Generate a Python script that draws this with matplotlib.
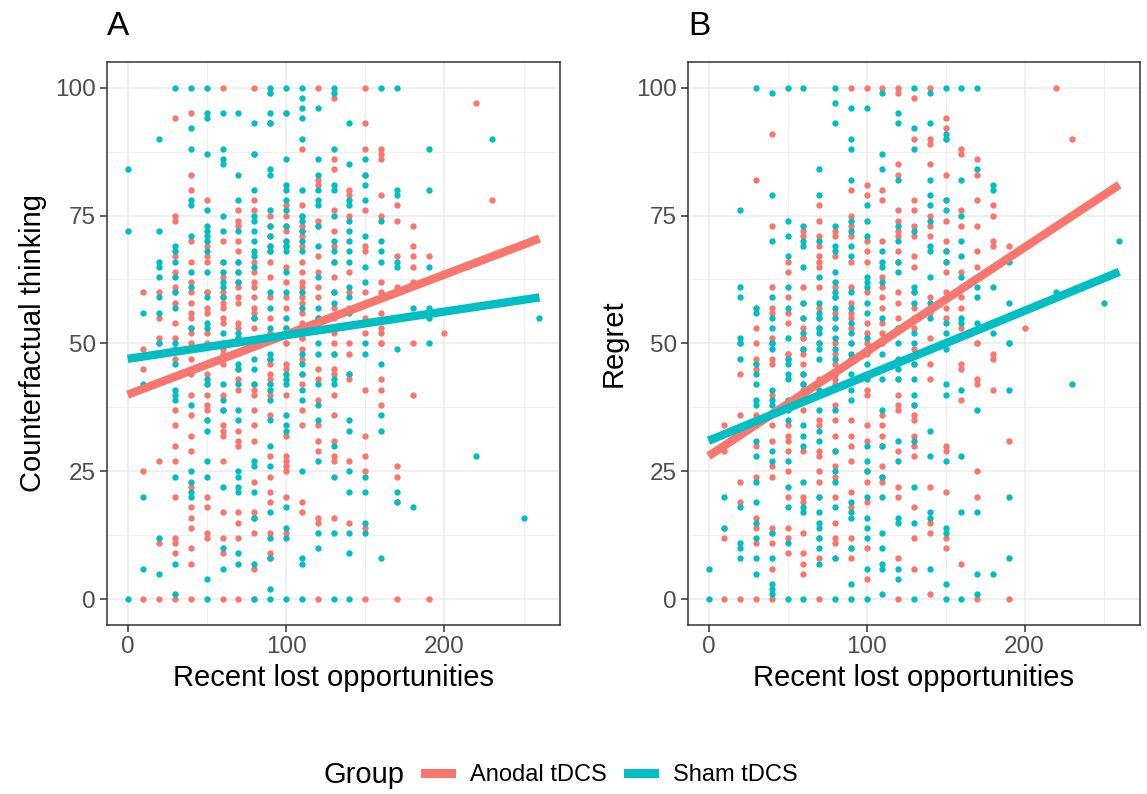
import numpy as np
import matplotlib.pyplot as plt
from matplotlib.lines import Line2D

plt.rcParams['font.family'] = ['Liberation Sans', 'DejaVu Sans']

groups = ['Anodal tDCS', 'Sham tDCS']
colors = ['#F8766D', '#00BFC4']

# Panel A - counterfactual thinking, y values per recent-lost-opportunity value
cf_anodal = {
    10: [60, 49, 45, 25, 0],
    20: [60, 55, 51, 50, 27, 11, 0],
    30: [94, 75, 74, 67, 64, 61, 60, 58, 54, 51, 47, 37, 34, 30, 27, 20, 12, 11, 9, 0],
    40: [95, 83, 80, 70, 66, 62, 60, 58, 56, 55, 53, 52, 50, 47, 44, 40, 36, 32, 29, 22, 18, 16, 14, 10, 7, 0],
    50: [78, 69, 67, 66, 60, 60, 57, 56, 52, 50, 44, 42, 40, 38, 37, 35, 20, 18, 13, 12],
    60: [100, 70, 66, 63, 60, 59, 58, 57, 55, 54, 49, 48, 47, 46, 40, 37, 34, 33, 32, 27, 17, 12, 9, 0],
    70: [76, 74, 73, 70, 68, 66, 64, 62, 61, 59, 58, 54, 53, 51, 50, 45, 43, 41, 33, 31, 30, 17, 15, 12, 0],
    80: [100, 78, 76, 66, 64, 62, 61, 59, 57, 56, 55, 53, 50, 42, 41, 40, 37, 34, 31, 23, 17, 16, 13, 6, 0],
    90: [99, 75, 73, 71, 69, 68, 66, 63, 59, 55, 52, 51, 47, 46, 44, 43, 42, 40, 36, 28, 24, 21, 19, 13, 9, 8],
    100: [95, 77, 75, 73, 72, 70, 69, 65, 62, 59, 57, 53, 50, 50, 46, 45, 40, 32, 28, 27, 26, 25, 20, 13],
    110: [88, 77, 75, 73, 72, 71, 69, 66, 64, 62, 61, 59, 58, 56, 54, 53, 51, 51, 49, 47, 44, 42, 37, 34, 19, 17],
    120: [100, 82, 81, 74, 73, 67, 64, 61, 59, 55, 53, 45, 43, 39, 34, 31, 29, 16, 15, 0],
    130: [98, 86, 84, 76, 72, 69, 66, 63, 60, 57, 55, 52, 50, 48, 45, 44, 40, 36, 31, 28, 27, 16],
    140: [80, 79, 75, 64, 60, 57, 50, 48, 44, 43, 27, 15],
    150: [100, 93, 88, 83, 76, 69, 68, 60, 58, 55, 54, 52, 41, 32, 28, 25, 14, 0],
    160: [88, 87, 86, 79, 75, 62, 60, 59, 56, 53, 52, 50, 50, 43, 41, 38],
    170: [77, 74, 67, 61, 26, 24, 19, 0],
    180: [73, 69, 67, 65, 62, 50, 40],
    190: [67, 0],
    200: [52],
    220: [97],
    230: [78],
}
cf_sham = {
    0: [84, 72, 0],
    10: [56, 42, 20, 6],
    20: [90, 72, 66, 65, 63, 59, 56, 50, 48, 12, 5],
    30: [100, 69, 68, 66, 63, 60, 57, 50, 49, 46, 41, 40, 39, 24, 7, 1],
    40: [100, 92, 88, 78, 77, 71, 64, 61, 53, 49, 38, 25, 23, 21, 20],
    50: [100, 95, 94, 87, 76, 73, 72, 71, 70, 68, 64, 59, 54, 53, 46, 43, 42, 35, 33, 27, 24, 4, 0],
    60: [95, 88, 86, 85, 75, 72, 66, 64, 62, 61, 59, 52, 50, 42, 39, 37, 22, 10, 6],
    70: [95, 83, 78, 72, 66, 64, 62, 52, 51, 46, 45, 42, 37, 35, 25, 24, 22, 21, 9, 7],
    80: [93, 87, 87, 80, 75, 74, 72, 70, 68, 67, 65, 55, 47, 45, 42, 27, 26, 21, 16, 7, 0],
    90: [100, 99, 95, 93, 93, 84, 83, 76, 73, 71, 69, 68, 60, 57, 53, 48, 47, 42, 41, 39, 35, 30, 26, 17, 12, 8, 2, 0],
    100: [100, 95, 86, 81, 80, 78, 76, 73, 70, 69, 68, 64, 60, 55, 53, 44, 43, 42, 36, 34, 33, 18, 14, 12, 0],
    110: [100, 98, 96, 94, 90, 80, 75, 74, 72, 70, 68, 60, 57, 53, 48, 46, 44, 41, 39, 25, 8, 7, 0],
    120: [96, 86, 83, 80, 78, 77, 73, 69, 63, 57, 55, 53, 50, 48, 42, 38, 35, 27, 13, 10],
    130: [100, 99, 88, 81, 80, 75, 70, 68, 66, 60, 58, 53, 48, 43, 42, 30, 24, 13, 0],
    140: [93, 85, 78, 77, 74, 72, 70, 68, 66, 61, 59, 56, 44, 35, 33, 25, 21, 13, 9, 0],
    150: [86, 83, 81, 78, 71, 65, 62, 50, 48, 24, 21, 15, 13],
    160: [100, 74, 70, 68, 66, 46, 36, 33, 8],
    170: [100, 80, 79, 66, 65, 49, 21, 19],
    180: [57, 18],
    190: [88, 80, 65, 57, 55, 50],
    220: [28],
    230: [90],
    250: [16],
    260: [55],
}

# Panel B - regret
regret_anodal = {
    10: [34, 29, 14, 12, 0],
    20: [44, 36, 23, 19, 0],
    30: [82, 57, 53, 50, 47, 45, 36, 34, 30, 24, 16, 14, 11, 0],
    40: [91, 73, 61, 57, 56, 51, 47, 46, 40, 34, 31, 26, 24, 14, 13, 11, 6, 0],
    50: [66, 64, 59, 56, 54, 48, 48, 47, 34, 32, 31, 29, 25, 20, 14, 12, 9],
    60: [72, 71, 61, 58, 55, 53, 51, 49, 51, 48, 46, 44, 42, 41, 37, 29, 20, 19, 13, 9, 7, 5],
    70: [77, 74, 71, 69, 67, 66, 65, 61, 57, 55, 53, 50, 43, 40, 35, 34, 29, 28, 25, 23, 20, 12, 8, 0],
    80: [72, 71, 67, 61, 59, 56, 53, 50, 48, 46, 43, 42, 38, 35, 32, 29, 26, 24, 20, 15, 12, 11, 8],
    90: [100, 80, 75, 73, 71, 66, 61, 58, 56, 55, 53, 50, 47, 35, 32, 30, 27, 21, 18, 12, 10, 8],
    100: [100, 81, 79, 70, 68, 66, 60, 54, 52, 50, 48, 41, 40, 34, 31, 25, 23, 19, 10, 4],
    110: [100, 80, 78, 70, 63, 61, 59, 57, 54, 52, 36, 34, 32, 30, 26, 24, 23],
    120: [100, 99, 85, 83, 76, 74, 72, 71, 68, 66, 60, 58, 55, 53, 43, 40, 38, 37, 29, 22, 20, 8, 0],
    130: [98, 90, 78, 76, 73, 71, 67, 65, 60, 57, 55, 53, 49, 46, 38, 36, 35, 32, 30, 28, 18, 12, 6],
    140: [100, 90, 89, 85, 75, 73, 71, 59, 57, 56, 51, 46, 43, 22, 15, 13, 1],
    150: [94, 92, 90, 83, 78, 74, 70, 68, 66, 64, 60, 57, 55, 30, 29, 21, 12, 10],
    160: [88, 87, 76, 73, 64, 59, 57, 53, 46, 45, 39, 7],
    170: [86, 83, 78, 73, 68, 65, 50, 50, 43, 42, 25, 20, 0],
    180: [77, 75, 70, 69, 48, 47, 41],
    190: [69, 31, 0],
    200: [53],
    220: [100],
    230: [90],
}
regret_sham = {
    0: [6, 0],
    10: [20, 14],
    20: [76, 61, 59, 51, 50, 50, 47, 18, 11, 10, 8],
    30: [100, 57, 56, 46, 44, 42, 39, 38, 35, 31, 28, 23, 19, 15, 12, 8, 5],
    40: [99, 79, 70, 59, 55, 53, 50, 49, 50, 41, 39, 38, 36, 29, 27, 13, 8, 3, 2, 1],
    50: [100, 74, 71, 67, 61, 57, 51, 47, 46, 44, 43, 39, 37, 35, 27, 22, 18, 11, 0],
    60: [100, 73, 70, 69, 65, 58, 55, 52, 49, 44, 42, 34, 32, 30, 23, 18, 17, 0],
    70: [84, 79, 70, 63, 58, 56, 55, 53, 52, 49, 50, 47, 41, 37, 33, 31, 20, 17, 15, 14, 12, 10, 7],
    80: [100, 97, 93, 73, 69, 68, 64, 62, 60, 59, 57, 55, 53, 51, 49, 47, 44, 37, 29, 25, 23, 18, 8, 0],
    90: [96, 90, 88, 82, 74, 72, 69, 67, 60, 57, 54, 52, 50, 48, 44, 41, 39, 19, 17, 16, 10, 3, 0],
    100: [96, 77, 74, 71, 63, 62, 61, 58, 56, 51, 49, 46, 43, 30, 27, 25, 20, 16, 14, 12, 6, 0],
    110: [99, 87, 84, 68, 66, 65, 62, 55, 50, 48, 45, 43, 37, 30, 24, 20, 13, 10, 7, 6, 1],
    120: [95, 93, 82, 73, 70, 66, 64, 53, 50, 47, 45, 43, 31, 27, 16, 15, 6, 4],
    130: [100, 92, 88, 72, 61, 60, 58, 52, 50, 46, 43, 40, 38, 31, 22, 15, 0],
    140: [99, 93, 82, 79, 77, 74, 69, 68, 63, 58, 55, 33, 28, 17, 16, 6],
    150: [100, 91, 90, 78, 76, 68, 66, 54, 52, 49, 42, 40, 27, 14, 13, 3, 0],
    160: [100, 82, 75, 70, 67, 63, 55, 54, 41, 28, 17, 0],
    170: [100, 84, 61, 59, 54, 37, 17, 5, 1],
    180: [81, 80, 61, 52, 5],
    190: [66, 58, 50, 50, 41, 20, 8],
    220: [60],
    230: [42],
    250: [58],
    260: [70],
}

# fitted lines: value at x = 0 and at x = 260
fit_x = [0, 260]
cf_fit = [[40, 70.5], [47, 59]]
regret_fit = [[28, 81], [31, 64]]


def expand(cols):
    xs, ys = [], []
    for x, vals in cols.items():
        xs += [x] * len(vals)
        ys += vals
    return np.array(xs), np.array(ys)


def draw_panel(ax, series, fits, ylabel, tag):
    ax.set_facecolor('white')
    for cols, c in zip(series, colors):
        x, y = expand(cols)
        ax.scatter(x, y, s=21, color=c, linewidths=0, zorder=2)
    for f, c in zip(fits, colors):
        ax.plot(fit_x, f, color=c, lw=6, solid_capstyle='butt', zorder=3)
    ax.set_xlim(-13, 273)
    ax.set_ylim(-5, 105)
    ax.set_xticks([0, 100, 200])
    ax.set_yticks([0, 25, 50, 75, 100])
    ax.set_xticks([50, 150, 250], minor=True)
    ax.set_yticks([12.5, 37.5, 62.5, 87.5], minor=True)
    ax.grid(which='major', color='#EBEBEB', lw=1.1, zorder=0)
    ax.grid(which='minor', color='#EBEBEB', lw=0.55, zorder=0)
    ax.set_axisbelow(True)
    ax.tick_params(which='major', length=5, width=1.1, color='#333333',
                   labelsize=17.5, labelcolor='#4D4D4D', pad=3)
    ax.tick_params(which='minor', length=0)
    for sp in ax.spines.values():
        sp.set_color('#333333')
        sp.set_linewidth(1.1)
    ax.set_xlabel('Recent lost opportunities', fontsize=21, labelpad=4)
    ax.set_ylabel(ylabel, fontsize=21, labelpad=6)
    ax.text(0, 1.035, tag, transform=ax.transAxes, fontsize=24, ha='left', va='bottom')


fig = plt.figure(figsize=(11.47, 7.94), dpi=100)
ax1 = fig.add_axes([0.0933, 0.2128, 0.3950, 0.7092])
ax2 = fig.add_axes([0.5998, 0.2128, 0.3940, 0.7092])

draw_panel(ax1, [cf_anodal, cf_sham], cf_fit, 'Counterfactual thinking', 'A')
draw_panel(ax2, [regret_anodal, regret_sham], regret_fit, 'Regret', 'B')

handles = [Line2D([0], [0], color=c, lw=6.5) for c in colors]
fig.text(0.353, 0.024, 'Group', fontsize=21, ha='right', va='center')
fig.legend(handles, groups, ncol=2, loc='center', bbox_to_anchor=(0.533, 0.024),
           frameon=False, fontsize=17, handlelength=1.1, handletextpad=0.8,
           columnspacing=0.9)

fig.savefig('out.png', dpi=100)
